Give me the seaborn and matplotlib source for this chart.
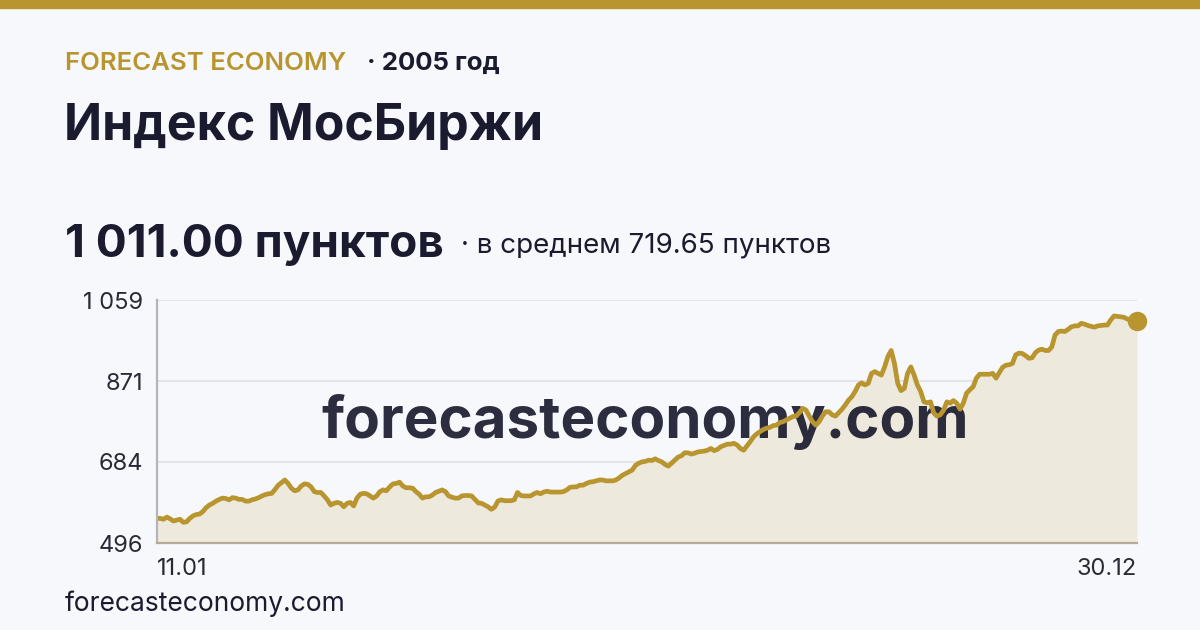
"""
MOEX index 2005 card: gold line over a filled area, headline numbers on top.
Saves out.png (1200x630).
"""

import matplotlib.pyplot as plt
import numpy as np
import pandas as pd
import seaborn as sns
from matplotlib.patches import Rectangle

GOLD = "#b8952e"
FILL = "#eee9dd"
INK = "#1a1b2e"
BG = "#f7f8fc"

# daily closes, 11.01 -> 30.12
index_values = [
    553, 553, 551, 556, 552, 547, 549, 551, 544, 545, 553, 559, 562, 563, 569, 578,
    584, 588, 593, 597, 600, 599, 596, 601, 600, 597, 597, 593, 593, 596, 598, 601,
    605, 608, 610, 611, 620, 630, 636, 642, 634, 623, 617,
    619, 628, 633, 632, 626, 615, 613, 613, 605, 596, 584, 588, 590, 588, 580, 588,
    590, 582, 600, 609, 611, 610, 605, 600, 605, 615, 619, 617, 626, 633, 634, 637,
    628, 624, 624, 623, 615, 609, 600, 603, 603, 607, 613, 616,
    619, 615, 605, 602, 600, 600, 605, 606, 606, 605, 597, 589, 588, 584, 580, 574,
    579, 593, 596, 594, 594, 594, 596, 613, 606, 605, 605, 605, 610, 613, 610, 614,
    616, 614, 614, 614, 614, 615, 619, 625, 626, 626,
    630, 630, 634, 637, 638, 640, 642, 642, 640, 640, 640, 642, 647, 653, 657, 661,
    665, 676, 681, 684, 685, 688, 687, 691, 687, 684, 678, 674, 681, 688, 695, 698,
    705, 705, 702, 704, 707, 708, 709, 711, 715, 710, 713, 719,
    722, 725, 725, 727, 723, 715, 711, 721, 731, 742, 749, 754, 759, 762, 764, 768,
    769, 775, 777, 781, 785, 789, 790, 798, 808, 804, 790, 777, 769, 777, 790, 800,
    800, 793, 790, 798, 806, 816, 827, 835, 847, 862, 867,
    862, 866, 889, 893, 889, 885, 904, 928, 942, 912, 866, 849, 854, 889, 904, 885,
    862, 847, 823, 821, 823, 797, 790, 793, 804, 823, 820, 826, 820, 806, 820, 843,
    851, 858, 878, 887, 887, 887, 887, 889, 878, 891,
    903, 908, 909, 912, 932, 936, 935, 930, 924, 925, 937, 943, 945, 942, 942, 950,
    978, 986, 987, 986, 991, 997, 999, 999, 1005, 1003, 1000, 998, 996, 999, 1000, 1001,
    1001, 1013, 1022, 1021, 1020, 1019, 1015, 1012, 1011, 1011,
]
date_labels = ["11.01", "30.12"]
y_ticks = [496, 683.67, 871.33, 1059]
y_tick_labels = ["496", "684", "871", "1 059"]

df = pd.DataFrame({"day": np.arange(len(index_values)), "value": index_values})

sns.set_theme(style="white")
plt.rcParams["font.family"] = ["Inter", "DejaVu Sans"]

fig = plt.figure(figsize=(12, 6.3), dpi=100, facecolor=BG)
ax = fig.add_axes([157 / 1200, 1 - 543 / 630, 980 / 1200, 243 / 630])
ax.set_facecolor(BG)

ax.fill_between(df["day"], df["value"], y_ticks[0], color=FILL, zorder=1, linewidth=0)
sns.lineplot(data=df, x="day", y="value", ax=ax, color=GOLD, linewidth=3.4, zorder=4)
ax.plot(df["day"].iloc[-1], df["value"].iloc[-1], "o", color=GOLD, markersize=13,
        zorder=5, clip_on=False)

# watermark sits between the fill and the line
ax.text(645 / 1200, 1 - 422 / 630, "forecasteconomy.com", transform=fig.transFigure,
        fontsize=42, fontweight="bold", color=INK, alpha=0.92, ha="center", va="center",
        zorder=3)

ax.set_xlim(0, len(index_values) - 1)
ax.set_ylim(y_ticks[0], y_ticks[-1])
ax.set_yticks(y_ticks)
ax.set_yticklabels(y_tick_labels)
ax.set_xticks([0, len(index_values) - 1])
ax.set_xticklabels(date_labels)
xl = ax.get_xticklabels()
xl[0].set_ha("left")
xl[1].set_ha("right")
ax.tick_params(axis="y", length=0, pad=10, labelsize=17, labelcolor="#2a2a35")
ax.tick_params(axis="x", length=0, pad=11, labelsize=17, labelcolor="#2a2a35")
ax.set_xlabel("")
ax.set_ylabel("")
ax.grid(axis="y", color="#dfe0e6", linewidth=1.2, zorder=0)
ax.set_axisbelow(True)
for side in ["top", "right"]:
    ax.spines[side].set_visible(False)
ax.spines["left"].set_color("#b4b4bc")
ax.spines["left"].set_linewidth(1.6)
ax.spines["bottom"].set_color("#b3ab9c")
ax.spines["bottom"].set_linewidth(1.6)
ax.spines["left"].set_zorder(6)
ax.spines["bottom"].set_zorder(6)

# gold strip along the top edge
fig.patches.append(Rectangle((0, 1 - 8 / 630), 1, 8 / 630, transform=fig.transFigure,
                             color=GOLD, zorder=0))

fig.text(65 / 1200, 1 - 70 / 630, "FORECAST ECONOMY", fontsize=18.6, fontweight="semibold",
         color=GOLD, va="baseline")
fig.text(367 / 1200, 1 - 70 / 630, "· 2005 год", fontsize=18.6, fontweight="bold",
         color=INK, va="baseline")
fig.text(64 / 1200, 1 - 140 / 630, "Индекс МосБиржи", fontsize=36, fontweight="bold",
         color=INK, va="baseline")
fig.text(65 / 1200, 1 - 257 / 630, "1 011.00 пунктов", fontsize=33, fontweight="bold",
         color=INK, va="baseline")
fig.text(461 / 1200, 1 - 253 / 630, "· в среднем 719.65 пунктов", fontsize=20,
         color=INK, va="baseline")
fig.text(65 / 1200, 1 - 611 / 630, "forecasteconomy.com", fontsize=19,
         color=INK, va="baseline")

fig.savefig("out.png", dpi=100, facecolor=BG)
plt.close(fig)
